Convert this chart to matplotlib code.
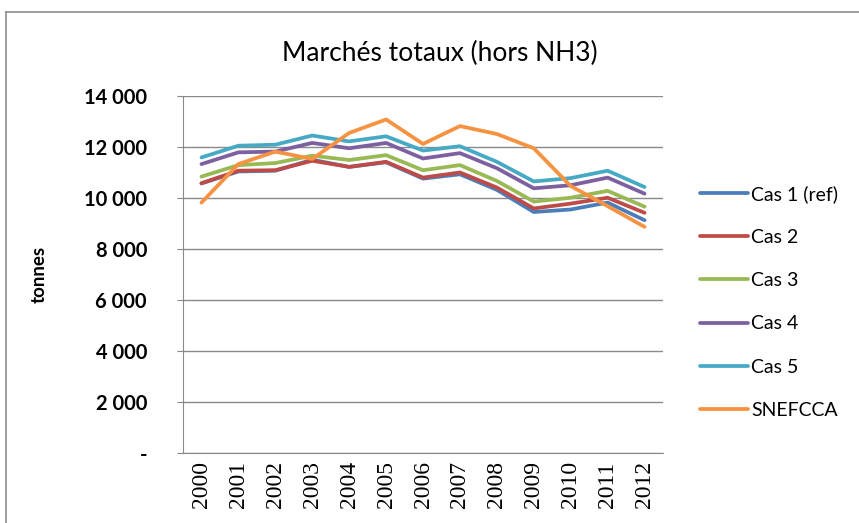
import matplotlib
matplotlib.use("Agg")
import matplotlib.pyplot as plt
from matplotlib.lines import Line2D
from matplotlib.ticker import FuncFormatter

years = ["2000", "2001", "2002", "2003", "2004", "2005", "2006",
         "2007", "2008", "2009", "2010", "2011", "2012"]
cas1 = [10570, 11040, 11070, 11500, 11220, 11400, 10760, 10930, 10320, 9450, 9550, 9820, 9130]
cas2 = [10580, 11070, 11090, 11460, 11220, 11420, 10800, 11000, 10410, 9590, 9780, 10010, 9420]
cas3 = [10840, 11290, 11370, 11660, 11490, 11680, 11090, 11290, 10670, 9860, 10010, 10280, 9660]
cas4 = [11330, 11790, 11820, 12160, 11950, 12160, 11550, 11760, 11170, 10380, 10500, 10800, 10170]
cas5 = [11590, 12050, 12090, 12450, 12220, 12420, 11860, 12030, 11420, 10650, 10780, 11070, 10430]
snefcca = [9820, 11330, 11820, 11530, 12550, 13080, 12120, 12820, 12510, 11950, 10470, 9680, 8870]

series_names = ["Cas 1 (ref)", "Cas 2", "Cas 3", "Cas 4", "Cas 5", "SNEFCCA"]
series_values = [cas1, cas2, cas3, cas4, cas5, snefcca]
colors = ["#4A7EBB", "#BE4B48", "#98B954", "#7D60A0", "#46AAC5", "#F69240"]

sans = "Lato"
fig = plt.figure(figsize=(8.59, 5.23), dpi=100)
fig.patch.set_facecolor("white")

# outer chart border (top and left)
fig.add_artist(Line2D([6 / 859, 6 / 859], [0, 1 - 12 / 523], transform=fig.transFigure,
                      color="#8c8c8c", lw=1.2))
fig.add_artist(Line2D([6 / 859, 1], [1 - 12 / 523, 1 - 12 / 523], transform=fig.transFigure,
                      color="#8c8c8c", lw=1.2))

ax = fig.add_axes([183 / 859, 1 - 453 / 523, (663 - 183) / 859, (453 - 96) / 523])
x = list(range(len(years)))
handles = []
for name, vals, c in zip(series_names, series_values, colors):
    h, = ax.plot(x, vals, color=c, lw=2.7, solid_joinstyle="round", solid_capstyle="round", label=name)
    handles.append(h)

ax.set_xlim(-0.5, len(years) - 0.5)
ax.set_ylim(0, 14000)
ax.set_yticks(range(0, 14001, 2000))
ax.yaxis.set_major_formatter(FuncFormatter(
    lambda v, p: "-" if v == 0 else f"{int(v):,}".replace(",", " ")))
ax.set_xticks(x)
ax.set_xticklabels(years, rotation=90, family="Liberation Serif", fontsize=17)
for lab in ax.get_yticklabels():
    lab.set_family(sans)
    lab.set_fontweight("bold")
    lab.set_fontsize(14.5)

ax.grid(axis="y", color="#8a8a8a", lw=1.0)
ax.set_axisbelow(True)
for s in ["top", "right"]:
    ax.spines[s].set_visible(False)
ax.spines["left"].set_color("#8a8a8a")
ax.spines["bottom"].set_color("#8a8a8a")
ax.tick_params(axis="y", length=4, color="#8a8a8a", pad=22)
ax.tick_params(axis="x", length=0, pad=6)

ax.set_ylabel("tonnes", family=sans, fontweight="bold", fontsize=13.5)
ax.yaxis.set_label_coords((48 - 183) / 480, 0.5)
fig.text(440 / 859, 1 - 53 / 523, "Marchés totaux (hors NH3)", family=sans, fontsize=19,
         ha="center", va="center")

fig.legend(handles=handles, loc="upper left", bbox_to_anchor=(692 / 859, 1 - 177 / 523),
           frameon=False, prop={"family": sans, "size": 14}, handlelength=2.5,
           handletextpad=0.15, labelspacing=1.35, borderaxespad=0)

fig.savefig("out.png", dpi=100, facecolor="white")
